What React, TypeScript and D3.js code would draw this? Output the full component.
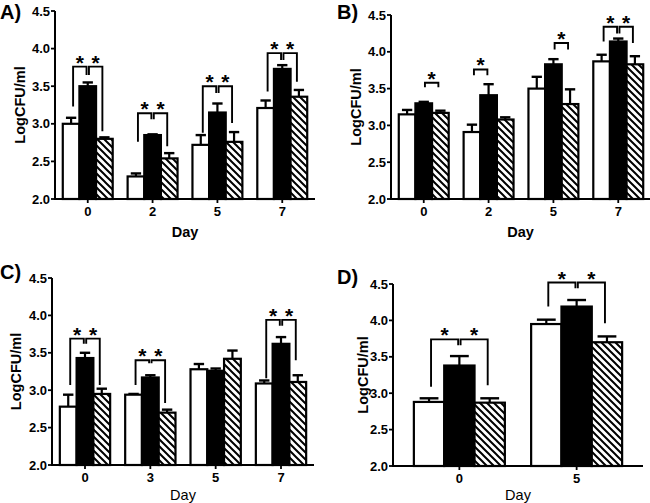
import React, { useEffect } from 'react';
import * as d3 from 'd3';

// log CFU/ml, three groups per day: open, solid, hatched
const daysA = ['0', '2', '5', '7'];
const openA = [3.0, 2.3, 2.72, 3.21];
const openErrA = [0.08, 0.04, 0.13, 0.1];
const solidA = [3.5, 2.85, 3.15, 3.73];
const solidErrA = [0.05, 0.01, 0.12, 0.05];
const hatchA = [2.8, 2.54, 2.76, 3.36];
const hatchErrA = [0.02, 0.07, 0.13, 0.09];

const daysB = ['0', '2', '5', '7'];
const openB = [3.15, 2.91, 3.5, 3.87];
const openErrB = [0.06, 0.1, 0.16, 0.09];
const solidB = [3.3, 3.41, 3.83, 4.14];
const solidErrB = [0.02, 0.15, 0.07, 0.04];
const hatchB = [3.17, 3.08, 3.29, 3.83];
const hatchErrB = [0.03, 0.03, 0.2, 0.11];

const daysC = ['0', '3', '5', '7'];
const openC = [2.78, 2.94, 3.28, 3.09];
const openErrC = [0.16, 0.01, 0.07, 0.04];
const solidC = [3.43, 3.17, 3.26, 3.62];
const solidErrC = [0.07, 0.03, 0.03, 0.09];
const hatchC = [2.95, 2.7, 3.42, 3.11];
const hatchErrC = [0.07, 0.04, 0.11, 0.09];

const daysD = ['0', '5'];
const openD = [2.88, 3.95];
const openErrD = [0.05, 0.06];
const solidD = [3.38, 4.19];
const solidErrD = [0.13, 0.09];
const hatchD = [2.87, 3.7];
const hatchErrD = [0.06, 0.08];

const yTicks = [2.0, 2.5, 3.0, 3.5, 4.0, 4.5];

// significance brackets: series index from/to, top value, leg end values
const sigA = [
  { day: '0', from: 0, to: 1, top: 3.76, legFrom: 3.23, legTo: 3.65 },
  { day: '0', from: 1, to: 2, top: 3.76, legFrom: 3.65, legTo: 2.9 },
  { day: '2', from: 0, to: 1, top: 3.14, legFrom: 2.76, legTo: 3.06 },
  { day: '2', from: 1, to: 2, top: 3.14, legFrom: 3.06, legTo: 2.7 },
  { day: '5', from: 0, to: 1, top: 3.5, legFrom: 2.88, legTo: 3.41 },
  { day: '5', from: 1, to: 2, top: 3.5, legFrom: 3.41, legTo: 3.01 },
  { day: '7', from: 0, to: 1, top: 3.94, legFrom: 3.43, legTo: 3.85 },
  { day: '7', from: 1, to: 2, top: 3.94, legFrom: 3.85, legTo: 3.56 },
];
const sigB = [
  { day: '0', from: 1, to: 2, top: 3.58, legFrom: 3.52, legTo: 3.52 },
  { day: '2', from: 0, to: 1, top: 3.76, legFrom: 3.68, legTo: 3.68 },
  { day: '5', from: 1, to: 2, top: 4.12, legFrom: 4.03, legTo: 4.03 },
  { day: '7', from: 0, to: 1, top: 4.34, legFrom: 4.14, legTo: 4.25 },
  { day: '7', from: 1, to: 2, top: 4.34, legFrom: 4.25, legTo: 4.12 },
];
const sigC = [
  { day: '0', from: 0, to: 1, top: 3.69, legFrom: 3.07, legTo: 3.62 },
  { day: '0', from: 1, to: 2, top: 3.69, legFrom: 3.62, legTo: 3.07 },
  { day: '3', from: 0, to: 1, top: 3.4, legFrom: 3.07, legTo: 3.36 },
  { day: '3', from: 1, to: 2, top: 3.4, legFrom: 3.36, legTo: 2.83 },
  { day: '7', from: 0, to: 1, top: 3.94, legFrom: 3.16, legTo: 3.86 },
  { day: '7', from: 1, to: 2, top: 3.94, legFrom: 3.86, legTo: 3.4 },
];
const sigD = [
  { day: '0', from: 0, to: 1, top: 3.74, legFrom: 3.09, legTo: 3.66 },
  { day: '0', from: 1, to: 2, top: 3.74, legFrom: 3.66, legTo: 3.11 },
  { day: '5', from: 0, to: 1, top: 4.52, legFrom: 4.19, legTo: 4.44 },
  { day: '5', from: 1, to: 2, top: 4.52, legFrom: 4.44, legTo: 3.96 },
];

const FONT = '"Liberation Sans", Arial, Helvetica, sans-serif';
const fills = ['#fff', '#000', 'url(#hatch)'];

const panels = [
  {
    label: 'A)', lx: 0, ly: 19, days: daysA,
    vals: [openA, solidA, hatchA], errs: [openErrA, solidErrA, hatchErrA], sig: sigA,
    x0: 55, x1: 315, yb: 199, yt: 11, pi: 0.23, po: 0.12,
    ylx: 20, dayY: 237, dayW: 'bold',
  },
  {
    label: 'B)', lx: 337, ly: 19, days: daysB,
    vals: [openB, solidB, hatchB], errs: [openErrB, solidErrB, hatchErrB], sig: sigB,
    x0: 391, x1: 651, yb: 199, yt: 15, pi: 0.23, po: 0.12,
    ylx: 356, dayY: 237, dayW: 'bold',
  },
  {
    label: 'C)', lx: 0, ly: 279, days: daysC,
    vals: [openC, solidC, hatchC], errs: [openErrC, solidErrC, hatchErrC], sig: sigC,
    x0: 52, x1: 314, yb: 465, yt: 278, pi: 0.23, po: 0.12,
    ylx: 16, dayY: 500, dayW: 'normal',
  },
  {
    label: 'D)', lx: 337, ly: 284, days: daysD,
    vals: [openD, solidD, hatchD], errs: [openErrD, solidErrD, hatchErrD], sig: sigD,
    x0: 393, x1: 643, yb: 466, yt: 284, pi: 0.224, po: 0.178,
    ylx: 363, dayY: 500, dayW: 'normal',
  },
];

function Panel({ p }: { p: any }) {
  const x = d3.scaleBand().domain(p.days).range([p.x0, p.x1]).paddingInner(p.pi).paddingOuter(p.po);
  const xs = d3.scaleBand<number>().domain([0, 1, 2]).range([0, x.bandwidth()]);
  const y = d3.scaleLinear().domain([2, 4.5]).range([p.yb, p.yt]);
  const bw = xs.bandwidth();
  const cap = bw * 0.62;
  const cx = (day: string, i: number) => (x(day) as number) + (xs(i) as number) + bw / 2;

  return (
    <g>
      <text x={p.lx} y={p.ly} fontFamily={FONT} fontWeight="bold" fontSize={20}>{p.label}</text>

      {p.vals.map((series: number[], i: number) =>
        series.map((v, j) => {
          const day = p.days[j];
          const bx = (x(day) as number) + (xs(i) as number);
          const e = p.errs[i][j];
          return (
            <g key={`b${i}-${j}`}>
              <line x1={bx + bw / 2} x2={bx + bw / 2} y1={y(v)} y2={y(v + e)} stroke="#000" strokeWidth={2.2} />
              <line x1={bx + bw / 2 - cap / 2} x2={bx + bw / 2 + cap / 2} y1={y(v + e)} y2={y(v + e)} stroke="#000" strokeWidth={2.4} />
              <rect x={bx} y={y(v)} width={bw} height={y(2) - y(v)} fill={fills[i]} stroke="#000" strokeWidth={2.2} />
            </g>
          );
        })
      )}

      {p.sig.map((s: any, k: number) => {
        const xa = cx(s.day, s.from) + (s.from === 1 ? 1.2 : 2);
        const xb = cx(s.day, s.to) - (s.to === 1 ? 1.2 : 2);
        const path = `M${xa},${y(s.legFrom)}V${y(s.top)}H${xb}V${y(s.legTo)}`;
        return (
          <g key={`s${k}`}>
            <path d={path} fill="none" stroke="#000" strokeWidth={1.9} />
            <text x={(xa + xb) / 2} y={y(s.top) + 3} textAnchor="middle" fontFamily={FONT} fontWeight="bold" fontSize={21}>*</text>
          </g>
        );
      })}

      <line x1={p.x0} x2={p.x0} y1={p.yb + 1} y2={p.yt} stroke="#000" strokeWidth={2} />
      <line x1={p.x0 - 1} x2={p.x1} y1={p.yb} y2={p.yb} stroke="#000" strokeWidth={2} />
      {yTicks.map(t => (
        <g key={`yt${t}`}>
          <line x1={p.x0 - 4} x2={p.x0} y1={y(t)} y2={y(t)} stroke="#000" strokeWidth={1.8} />
          <text x={p.x0 - 5} y={y(t) + 4.5} textAnchor="end" fontFamily={FONT} fontWeight="bold" fontSize={13}>{d3.format('.1f')(t)}</text>
        </g>
      ))}
      {p.days.map((d: string) => {
        const c = (x(d) as number) + x.bandwidth() / 2;
        return (
          <g key={`xt${d}`}>
            <line x1={c} x2={c} y1={p.yb} y2={p.yb + 4} stroke="#000" strokeWidth={1.8} />
            <text x={c} y={p.yb + 17} textAnchor="middle" fontFamily={FONT} fontWeight="bold" fontSize={13}>{d}</text>
          </g>
        );
      })}
      <text x={(p.x0 + Math.min(p.x1, 650)) / 2} y={p.dayY} textAnchor="middle" fontFamily={FONT} fontWeight={p.dayW} fontSize={14.5}>Day</text>
      <text transform={`translate(${p.ylx},${(p.yb + p.yt) / 2}) rotate(-90)`} textAnchor="middle" dominantBaseline="central"
        fontFamily={FONT} fontWeight="bold" fontSize={14.5}>LogCFU/ml</text>
    </g>
  );
}

export default function App() {
  useEffect(() => {
    document.body.style.margin = '0';
  }, []);

  return (
    <svg width={650} height={503} style={{ display: 'block', background: '#fff' }}>
      <defs>
        <pattern id="hatch" patternUnits="userSpaceOnUse" width={7} height={7}>
          <rect width={7} height={7} fill="#fff" />
          <path d="M0,0L7,7M-1,6L1,8M6,-1L8,1" stroke="#000" strokeWidth={2} />
        </pattern>
      </defs>
      {panels.map(p => <Panel key={p.label} p={p} />)}
    </svg>
  );
}
